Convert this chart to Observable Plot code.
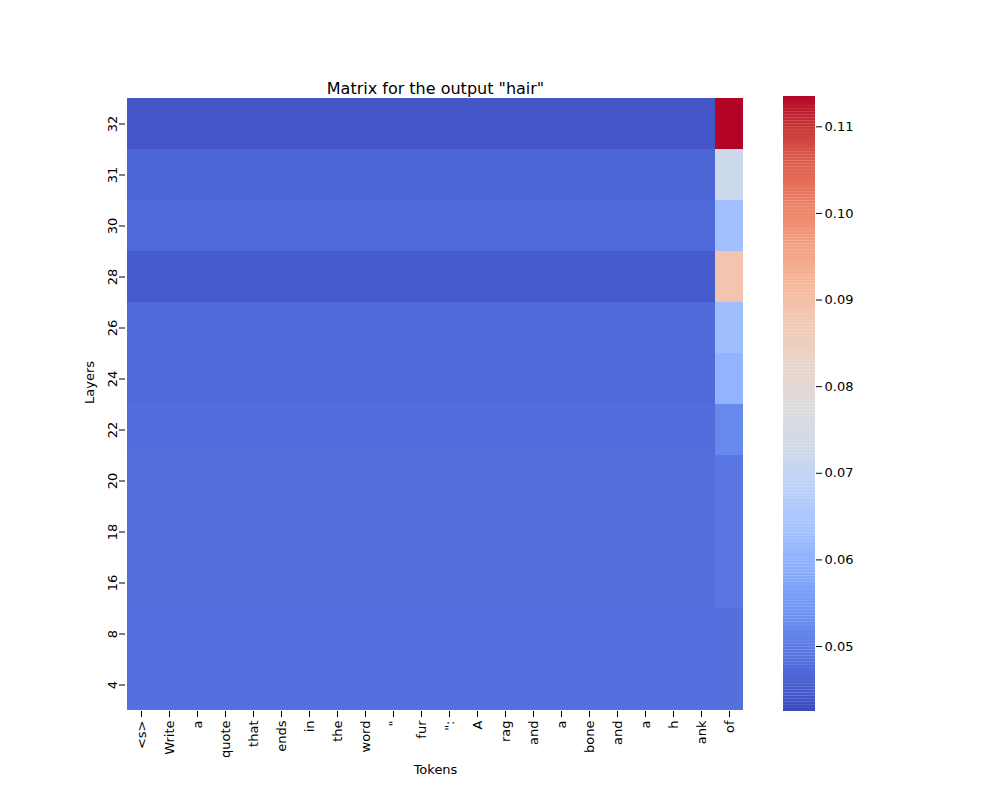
<!DOCTYPE html>
<html>
<head>
<meta charset="UTF-8">
<script src="https://cdn.jsdelivr.net/npm/d3@7"></script>
<script src="https://cdn.jsdelivr.net/npm/@observablehq/plot@0.6"></script>
<style>
  body { margin: 0; background: #fff; font-family: "DejaVu Sans", sans-serif; }
  #wrap { position: relative; width: 1000px; height: 800px; }
  #wrap > div { position: absolute; }
</style>
</head>
<body>
<div id="wrap"><div id="main" style="left:0;top:0"></div><div id="bar" style="left:783px;top:0"></div></div>
<script>
const tokens = ["<s>", "Write", "a", "quote", "that", "ends", "in", "the", "word", "\"", "fur", "\":", "A", "rag", "and", "a", "bone", "and", "a", "h", "ank", "of"];
const layers = ["32", "31", "30", "28", "26", "24", "22", "20", "18", "16", "8", "4"];
// base value for the first 21 tokens, and value of the last token ("of")
const baseVals = [0.0440, 0.0465, 0.0470, 0.0450, 0.0472, 0.0473, 0.0478, 0.0480, 0.0480, 0.0480, 0.0481, 0.0481];
const lastVals = [0.1135, 0.0720, 0.0630, 0.0880, 0.0625, 0.0600, 0.0520, 0.0490, 0.0490, 0.0490, 0.0480, 0.0480];
const vmin = 0.0425, vmax = 0.1135;

const coolwarm = ["#3b4cc0", "#4f69d9", "#6485ec", "#7b9ff9", "#93b5fe", "#aac7fd", "#c0d4f5", "#d4dbe6", "#dddcdc", "#ead4c8", "#f2cbb7", "#f6b89c", "#f4a384", "#ee8468", "#e16751", "#cc403a", "#b40426"];
const interp = d3.interpolateRgbBasis(coolwarm);
const color = {type: "linear", domain: [vmin, vmax], interpolate: () => interp};

const cells = [];
layers.forEach((l, i) => tokens.forEach((t, j) => {
  cells.push({layer: l, tok: j, v: j === tokens.length - 1 ? lastVals[i] : baseVals[i]});
}));

const main = Plot.plot({
  width: 1000, height: 800,
  marginLeft: 125, marginRight: 255, marginTop: 96, marginBottom: 89,
  style: {fontSize: "13px", fontFamily: "DejaVu Sans, sans-serif", color: "#000"},
  x: {type: "band", domain: d3.range(tokens.length), padding: 0, tickFormat: i => tokens[i], tickRotate: -90, label: null},
  y: {type: "band", domain: layers, padding: 0, tickRotate: -90, label: null},
  color,
  marks: [
    Plot.cell(cells, {x: "tok", y: "layer", fill: "v"}),
    Plot.text(["Matrix for the output \"hair\""], {frameAnchor: "top", dy: -14, fontSize: 16, textAnchor: "middle"}),
    Plot.text(["Tokens"], {frameAnchor: "bottom", dy: 62, fontSize: 13}),
    Plot.text(["Layers"], {frameAnchor: "left", dx: -36, rotate: -90, fontSize: 13})
  ]
});
document.getElementById("main").appendChild(main);

const steps = d3.range(0, 200).map(k => vmin + (vmax - vmin) * k / 200);
const dv = (vmax - vmin) / 200;
const bar = Plot.plot({
  width: 90, height: 800,
  marginLeft: 0, marginRight: 58, marginTop: 96, marginBottom: 89,
  style: {fontSize: "13px", fontFamily: "DejaVu Sans, sans-serif", color: "#000"},
  x: {axis: null, domain: [0, 1]},
  y: {domain: [vmin, vmax], axis: "right", ticks: [0.05, 0.06, 0.07, 0.08, 0.09, 0.10, 0.11], tickFormat: d3.format(".2f"), label: null},
  color,
  marks: [
    Plot.rect(steps, {x1: 0, x2: 1, y1: d => d, y2: d => Math.min(vmax, d + dv * 1.05), fill: d => d})
  ]
});
document.getElementById("bar").appendChild(bar);
</script>
</body>
</html>
